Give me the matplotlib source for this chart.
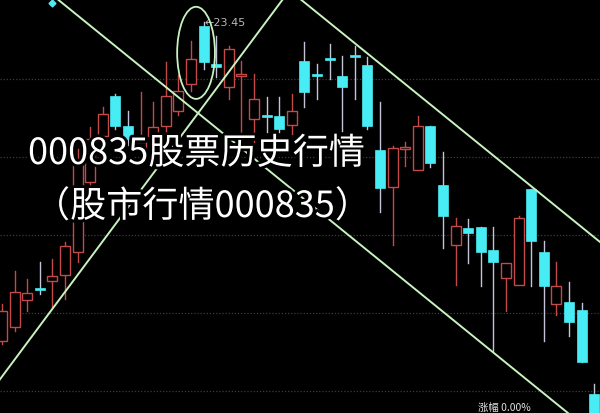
import matplotlib
matplotlib.use("Agg")
import matplotlib.pyplot as plt
import matplotlib.patheffects as pe
from matplotlib.patches import Rectangle, Ellipse

plt.rcParams['font.family'] = ['Noto Sans CJK SC', 'DejaVu Sans']

# --- data (daily candles, price) ---
opens  = [15.28, 15.64, 16.33, 16.64, 16.82, 16.97, 17.56, 19.36, 20.54, 21.56,
          20.79, 20.21, 20.54, 20.79, 21.18, 21.87, 23.36, 22.38, 21.79, 22.08,
          20.97, 21.08, 21.05, 20.82, 22.46, 22.13, 22.54, 22.08, 22.62, 22.36,
          20.18, 19.23, 20.21, 19.67, 20.79, 19.28, 17.74, 18.18, 18.21, 17.62,
          16.90, 16.72, 19.18, 17.56, 16.23, 16.28, 16.08, 13.92]
highs  = [16.23, 17.08, 16.87, 17.31, 17.38, 17.82, 20.21, 20.77, 21.28, 21.62,
          21.18, 21.67, 21.41, 22.44, 22.10, 22.97, 23.45, 23.10, 22.85, 22.46,
          22.13, 21.54, 21.54, 21.62, 22.95, 22.38, 22.90, 22.59, 22.85, 22.56,
          21.41, 20.28, 20.38, 21.05, 20.79, 20.13, 18.44, 18.41, 18.21, 18.21,
          17.28, 18.49, 19.18, 17.85, 17.31, 16.80, 16.26, 14.18]
lows   = [15.21, 15.54, 16.05, 16.49, 16.15, 16.36, 17.31, 19.13, 20.26, 20.72,
          20.31, 20.05, 20.31, 20.59, 21.08, 21.69, 22.26, 22.05, 21.49, 20.64,
          20.38, 20.64, 20.64, 20.59, 21.28, 21.49, 22.00, 20.67, 21.49, 20.72,
          18.59, 17.74, 19.77, 19.67, 19.74, 17.67, 16.72, 17.28, 16.69, 15.03,
          16.05, 16.72, 16.69, 15.28, 15.95, 15.41, 14.74, 13.15]
closes = [16.05, 16.54, 16.51, 16.59, 16.95, 17.72, 19.87, 20.46, 21.10, 20.79,
          20.46, 20.38, 20.77, 21.56, 21.69, 22.51, 22.44, 22.31, 22.77, 22.13,
          21.49, 21.03, 20.72, 21.18, 21.67, 22.08, 22.49, 21.79, 22.56, 20.79,
          19.21, 20.23, 20.26, 20.79, 19.85, 18.49, 18.23, 18.05, 17.56, 17.31,
          17.28, 18.44, 17.85, 16.69, 16.69, 15.77, 14.74, 13.28]

grid_prices = [22, 20, 18, 16, 14]
peak_label = "←23.45"
peak_idx, peak_price = 16, 23.45

# hand-drawn trend lines: (idx0, price0, idx1, price1)
upper_line = (20, 25.01, 49, 17.42)
lower_line = (-1, 25.46, 49, 12.37)
rise_line = (-1, 13.94, 25, 25.22)
circle_center = (15.4, 22.67)
circle_size = (3.0, 2.36)

title_1 = "000835股票历史行情"
title_2 = "（股市行情000835）"
bottom_note = "涨幅 0.00%"

RED = "#c44a4a"
CYAN = "#48ecf4"
CYAN_WICK = "#c4c4d8"
LINE_GREEN = "#c8f2c0"

fig = plt.figure(figsize=(6, 4.14), dpi=100)
fig.patch.set_facecolor("black")
ax = fig.add_axes([0, 0, 1, 1])
ax.set_facecolor("black")
ax.set_xlim(-0.16, 47.46)
ax.set_ylim(13.44, 24.05)
ax.axis("off")

for g in grid_prices:
    ax.axhline(g, color="#3c3c3c", lw=0.9, ls=(0, (1, 1.5)), zorder=1)

w = 0.8
for i, (o, h, l, c) in enumerate(zip(opens, highs, lows, closes)):
    top, bot = max(o, c), min(o, c)
    if c > o:
        # rising candle: hollow red box
        ax.plot([i, i], [top, h], color=RED, lw=1, zorder=2)
        ax.plot([i, i], [l, bot], color=RED, lw=1, zorder=2)
        ax.add_patch(Rectangle((i - w / 2, bot), w, top - bot, facecolor="black",
                               edgecolor=RED, lw=1, zorder=3))
    else:
        ax.plot([i, i], [l, h], color=CYAN_WICK, lw=1, zorder=2)
        hgt = max(top - bot, 0.06)
        ax.add_patch(Rectangle((i - w / 2, top - hgt), w, hgt, facecolor=CYAN,
                               edgecolor=CYAN, lw=0.5, zorder=3))

ax.text(peak_idx + 0.1, peak_price, peak_label, color="#b8b8b8", fontsize=8,
        family="DejaVu Sans", va="center", ha="left", zorder=4)
ax.plot([3.97], [23.95], marker="D", color=CYAN, ms=3.5, zorder=4)

for x0, y0, x1, y1 in [upper_line, lower_line, rise_line]:
    ax.plot([x0, x1], [y0, y1], color=LINE_GREEN, lw=1.4, zorder=5)
ax.add_patch(Ellipse(circle_center, circle_size[0], circle_size[1], fill=False,
                     edgecolor=LINE_GREEN, lw=1.3, zorder=5))

outline = [pe.withStroke(linewidth=4, foreground="black")]
fig.text(28 / 600, 1 - 155 / 414, title_1, color="white", fontsize=26,
         va="center", ha="left", path_effects=outline, zorder=10)
fig.text(34 / 600, 1 - 208 / 414, title_2, color="white", fontsize=26,
         va="center", ha="left", path_effects=outline, zorder=10)
# status text at the bottom edge
fig.text(478 / 600, 1 / 414, bottom_note, color="#e0e0e0", fontsize=7.5,
         va="bottom", ha="left", zorder=10)

fig.savefig("out.png", dpi=100, facecolor="black")
